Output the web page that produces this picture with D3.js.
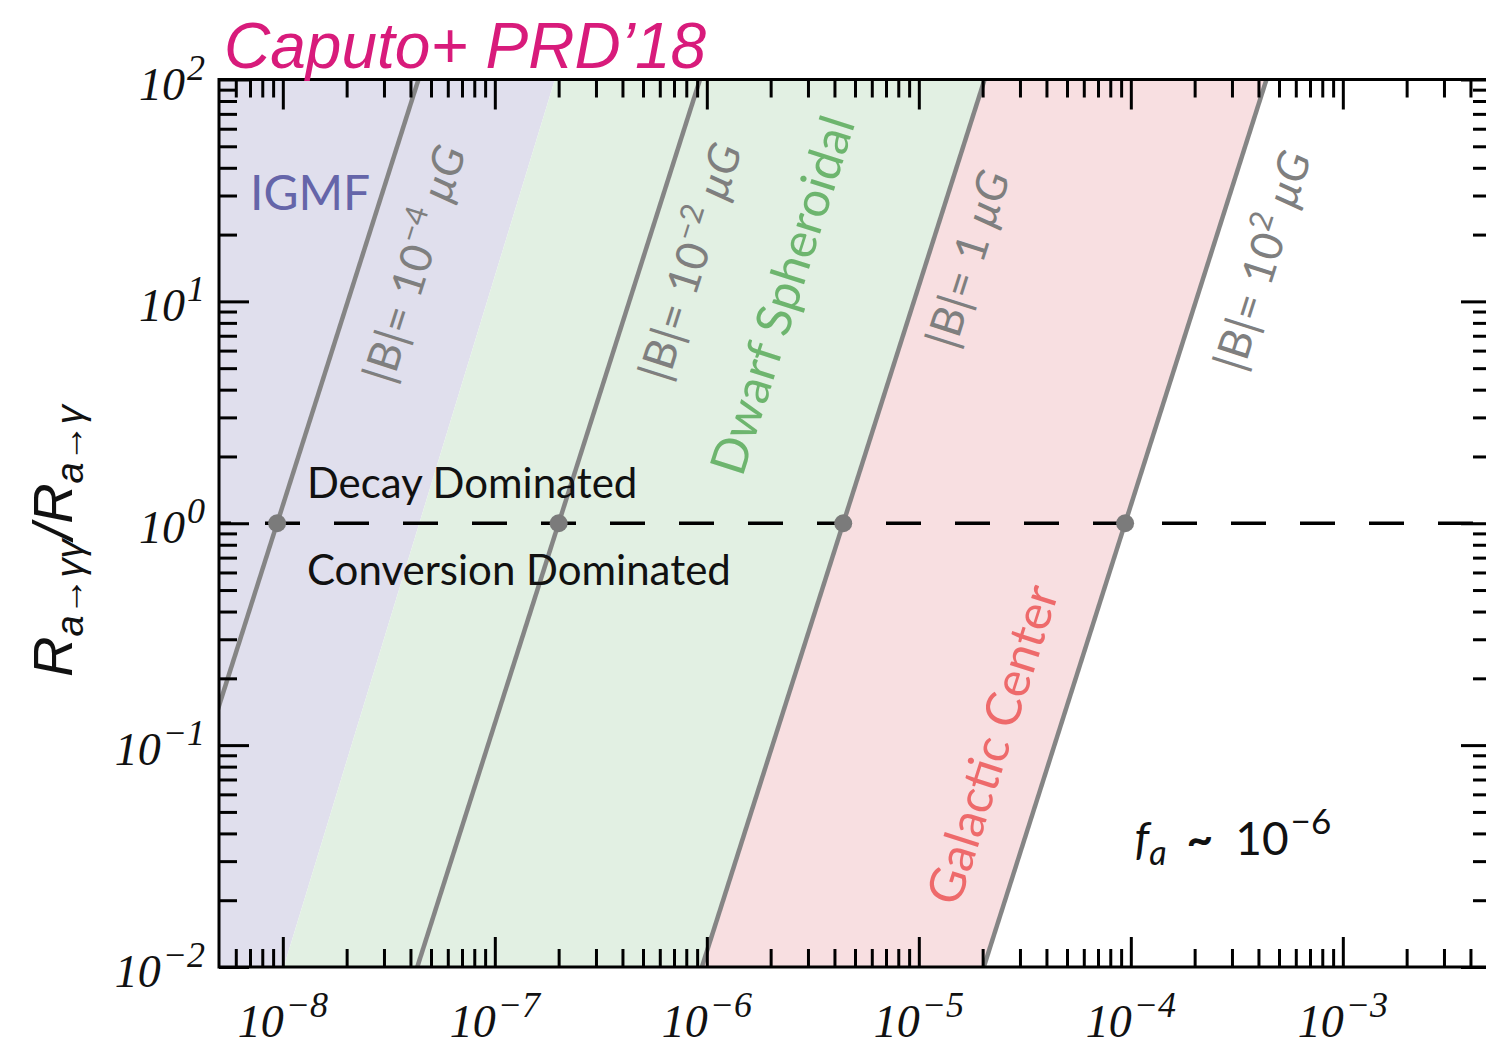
<!DOCTYPE html>
<html>
<head>
<meta charset="utf-8">
<script src="https://cdn.jsdelivr.net/npm/d3@7"></script>
<style>
  html, body { margin: 0; padding: 0; background: #fff; }
  svg { display: block; }
</style>
</head>
<body>
<svg id="chart" width="1486" height="1046"></svg>
<script>
// ---------------- data ----------------
const xDomain = [5e-9, 5e-3];          // axion mass axis (log)
const yDomain = [1e-2, 1e2];           // R_{a->gg}/R_{a->g} (log)
const xTickValues = [1e-8, 1e-7, 1e-6, 1e-5, 1e-4, 1e-3];
const xTickExps = ["\u22128", "\u22127", "\u22126", "\u22125", "\u22124", "\u22123"];
const yTickValues = [1e-2, 1e-1, 1, 1e1, 1e2];
const yTickExps = ["\u22122", "\u22121", "0", "1", "2"];

// constant-|B| lines: R = (m / mCross)^3
const fieldB = [1e-4, 1e-2, 1, 1e2];                  // muG
const fieldExps = ["\u22124", "\u22122", null, "2"];
const crossMass = [9.4e-9, 2.0e-7, 4.4e-6, 9.4e-5];   // mass where R = 1
const lineSlope = 3;
const labelMass = [3.27e-8, 6.55e-7, 1.48e-5, 3.37e-4];
const labelR = [4.18, 4.27, 6.0, 4.74];

// shaded environments
const bandNames = ["IGMF", "Dwarf Spheroidal", "Galactic Center"];
const igmfEdgeMass = [1.01e-8, 1.92e-7];              // edge mass at R = 1e-2 and R = 1e2
const bandLabelMass = [7.0e-9, 1.47e-6, 1.54e-5];
const bandLabelR = [25.7, 1.60, 0.0185];

// region labels
const regionNames = ["Decay Dominated", "Conversion Dominated"];
const regionMass = [1.30e-8, 1.30e-8];
const regionR = [1.30, 0.526];
const faMass = 1.04e-4, faR = 0.032;

// ---------------- layout ----------------
const svg = d3.select("#chart");
const plotLeft = 219, plotTop = 79.5, plotBottom = 967, decade = 212;
const plotRight = plotLeft + decade * Math.log10(xDomain[1] / xDomain[0]);

const x = d3.scaleLog().domain(xDomain).range([plotLeft, plotRight]);
const y = d3.scaleLog().domain(yDomain).range([plotBottom, plotTop]);

const sansFont = "Lato, 'Open Sans', sans-serif";
const serifFont = "'Liberation Serif', 'DejaVu Serif', serif";

svg.append("defs").append("clipPath").attr("id", "plotclip")
  .append("rect").attr("x", plotLeft).attr("y", plotTop)
  .attr("width", plotRight - plotLeft).attr("height", plotBottom - plotTop);

const plot = svg.append("g").attr("clip-path", "url(#plotclip)");

const lineMass = (i, R) => crossMass[i] * Math.pow(R, 1 / lineSlope);
const lo = yDomain[0], hi = yDomain[1];

const bandPolys = [
  [[xDomain[0], lo], [igmfEdgeMass[0], lo], [igmfEdgeMass[1], hi], [xDomain[0], hi]],
  [[igmfEdgeMass[0], lo], [lineMass(2, lo), lo], [lineMass(2, hi), hi], [igmfEdgeMass[1], hi]],
  [[lineMass(2, lo), lo], [lineMass(3, lo), lo], [lineMass(3, hi), hi], [lineMass(2, hi), hi]]
];
const bandFill = ["#e0dfed", "#e2f0e3", "#f8dfe1"];
const bandText = ["#6565a9", "#6db56e", "#ee6a6b"];

plot.selectAll("path.band").data(bandPolys).join("path")
  .attr("class", "band")
  .attr("d", d => "M" + d.map(p => [x(p[0]), y(p[1])].join(",")).join("L") + "Z")
  .attr("fill", (d, i) => bandFill[i]);

// constant B lines
const lineGen = d3.line().x(d => x(d[0])).y(d => y(d[1]));
plot.selectAll("path.bline").data(fieldB).join("path")
  .attr("class", "bline")
  .attr("d", (b, i) => lineGen([[lineMass(i, lo), lo], [lineMass(i, hi), hi]]))
  .attr("stroke", "#858585").attr("stroke-width", 4.5).attr("fill", "none");

// dashed R = 1
plot.append("line")
  .attr("x1", x(xDomain[0])).attr("x2", x(xDomain[1]))
  .attr("y1", y(1)).attr("y2", y(1))
  .attr("stroke", "#000").attr("stroke-width", 3.5)
  .attr("stroke-dasharray", "35,34").attr("stroke-dashoffset", 23);

// dots
plot.selectAll("circle.cross").data(crossMass).join("circle")
  .attr("class", "cross")
  .attr("cx", d => x(d)).attr("cy", y(1)).attr("r", 9)
  .attr("fill", "#7b7b7b");

// rotation angle of the lines on screen
const ang = Math.atan2(y(1) - y(10), x(crossMass[0] * Math.pow(10, 1 / lineSlope)) - x(crossMass[0])) * 180 / Math.PI;

// B labels
fieldB.forEach((b, i) => {
  const t = svg.append("text")
    .attr("transform", `translate(${x(labelMass[i])},${y(labelR[i])}) rotate(${-ang})`)
    .attr("font-family", sansFont).attr("font-size", 44).attr("fill", "#7f7f7f")
    .attr("letter-spacing", 0.5);
  t.append("tspan").text("|B|= ");
  if (fieldExps[i] === null) {
    t.append("tspan").text("1 ");
  } else {
    t.append("tspan").text("10");
    t.append("tspan").attr("dy", -18).attr("font-size", 31).text(fieldExps[i]);
    t.append("tspan").attr("dy", 18).text(" ");
  }
  t.append("tspan").attr("font-style", "italic").text("\u03bcG");
});

// band labels
bandNames.forEach((name, i) => {
  const t = svg.append("text")
    .attr("font-family", sansFont).attr("font-size", i === 0 ? 48 : 49)
    .attr("fill", bandText[i]).text(name);
  if (i === 0) t.attr("x", x(bandLabelMass[i])).attr("y", y(bandLabelR[i]));
  else t.attr("transform", `translate(${x(bandLabelMass[i])},${y(bandLabelR[i])}) rotate(${-ang})`);
});

// region labels
regionNames.forEach((name, i) => {
  svg.append("text").attr("x", x(regionMass[i])).attr("y", y(regionR[i]))
    .attr("font-family", sansFont).attr("font-size", 42).attr("fill", "#111").text(name);
});

// f_a label
{
  const t = svg.append("text").attr("x", x(faMass)).attr("y", y(faR))
    .attr("font-family", sansFont).attr("font-size", 46).attr("fill", "#111");
  t.append("tspan").attr("font-style", "italic").text("f");
  t.append("tspan").attr("dy", 10).attr("font-size", 34).attr("font-style", "italic").text("a");
  t.append("tspan").attr("dy", -10).attr("dx", 20).attr("font-weight", 700).text("~");
  t.append("tspan").attr("dx", 22).text("10");
  t.append("tspan").attr("dy", -21).attr("dx", 2).attr("font-size", 35).text("\u22126");
}

// ---------------- axes ----------------
function minorTicks(domain) {
  const out = [];
  for (let e = Math.floor(Math.log10(domain[0])); e <= Math.ceil(Math.log10(domain[1])); e++) {
    for (let k = 2; k <= 9; k++) {
      const v = k * Math.pow(10, e);
      if (v > domain[0] * 1.0001 && v < domain[1] * 0.9999) out.push(v);
    }
  }
  return out;
}
const xMinor = minorTicks(xDomain), yMinor = minorTicks(yDomain);

function drawAxis(axisFn, scale, values, size, transform) {
  const g = svg.append("g").attr("transform", transform)
    .call(axisFn(scale).tickValues(values).tickSize(-size).tickFormat(""));
  g.select(".domain").remove();
  g.selectAll(".tick line").attr("stroke", "#000").attr("stroke-width", 3);
}
drawAxis(d3.axisBottom, x, xTickValues, 30, `translate(0,${plotBottom})`);
drawAxis(d3.axisBottom, x, xMinor, 18, `translate(0,${plotBottom})`);
drawAxis(d3.axisTop, x, xTickValues, 30, `translate(0,${plotTop})`);
drawAxis(d3.axisTop, x, xMinor, 18, `translate(0,${plotTop})`);
drawAxis(d3.axisLeft, y, yTickValues, 30, `translate(${plotLeft},0)`);
drawAxis(d3.axisLeft, y, yMinor, 18, `translate(${plotLeft},0)`);
drawAxis(d3.axisRight, y, yTickValues, 30, `translate(${plotRight},0)`);
drawAxis(d3.axisRight, y, yMinor, 18, `translate(${plotRight},0)`);

svg.append("rect").attr("x", plotLeft).attr("y", plotTop)
  .attr("width", plotRight - plotLeft).attr("height", plotBottom - plotTop)
  .attr("fill", "none").attr("stroke", "#000").attr("stroke-width", 3);

// tick labels
xTickValues.forEach((v, i) => {
  const t = svg.append("text").attr("x", x(v)).attr("y", 1037)
    .attr("text-anchor", "middle").attr("font-family", serifFont)
    .attr("font-style", "italic").attr("font-size", 46).attr("fill", "#111");
  t.append("tspan").text("10");
  t.append("tspan").attr("dy", -20).attr("dx", 2).attr("font-size", 36).text(xTickExps[i]);
});
yTickValues.forEach((v, i) => {
  const t = svg.append("text").attr("x", 205).attr("y", y(v) + 20)
    .attr("text-anchor", "end").attr("font-family", serifFont)
    .attr("font-style", "italic").attr("font-size", 46).attr("fill", "#111");
  t.append("tspan").text("10");
  t.append("tspan").attr("dy", -20).attr("dx", 2).attr("font-size", 36).text(yTickExps[i]);
});

// y-axis title
{
  const t = svg.append("text").attr("transform", "translate(72,677) rotate(-90)")
    .attr("font-family", "'Liberation Sans', Arial, sans-serif").attr("font-style", "italic")
    .attr("font-size", 56).attr("fill", "#111");
  t.append("tspan").text("R");
  t.append("tspan").attr("dy", 11).attr("font-size", 38).text("a\u2192\u03b3\u03b3");
  t.append("tspan").attr("dy", -11).text("/R");
  t.append("tspan").attr("dy", 11).attr("font-size", 38).text("a\u2192\u03b3");
}

// title
svg.append("text").attr("x", 224).attr("y", 68)
  .attr("font-family", "'Liberation Sans', Arial, sans-serif").attr("font-style", "italic")
  .attr("font-size", 64).attr("fill", "#d81b7b").text("Caputo+ PRD\u201918");
</script>
</body>
</html>
